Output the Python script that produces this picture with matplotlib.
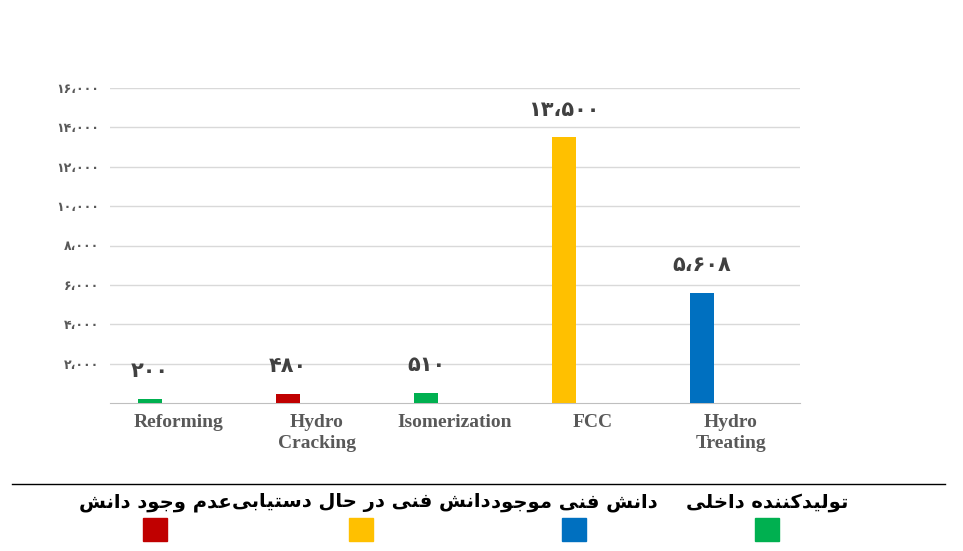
import matplotlib
matplotlib.use('Agg')
import matplotlib.pyplot as plt
from matplotlib.patches import Rectangle
from matplotlib.lines import Line2D

categories = ['Reforming', 'Hydro\nCracking', 'Isomerization', 'FCC', 'Hydro\nTreating']
values = [200, 480, 510, 13500, 5608]
value_labels = ['۲۰۰', '۴۸۰', '۵۱۰', '۱۳،۵۰۰', '۵،۶۰۸']
bar_groups = ['green', 'red', 'green', 'yellow', 'blue']
y_ticks = [2000, 4000, 6000, 8000, 10000, 12000, 14000, 16000]
y_tick_labels = ['۲،۰۰۰', '۴،۰۰۰', '۶،۰۰۰', '۸،۰۰۰', '۱۰،۰۰۰', '۱۲،۰۰۰', '۱۴،۰۰۰', '۱۶،۰۰۰']
legend_keys = ['red', 'yellow', 'blue', 'green']
legend_texts = ['عدم وجود دانش', 'دانش فنی در حال دستیابی', 'دانش فنی موجود', 'تولیدکننده داخلی']

palette = {'green': '#00B050', 'red': '#C00000', 'yellow': '#FFC000', 'blue': '#0070C0'}

# minimal Arabic/Persian shaping (matplotlib has no complex text layout)
FORMS = {
    'ا': (0xFE8D, 0xFE8E), 'د': (0xFEA9, 0xFEAA), 'ر': (0xFEAD, 0xFEAE), 'و': (0xFEED, 0xFEEE),
    'ب': (0xFE8F, 0xFE90, 0xFE91, 0xFE92), 'ت': (0xFE95, 0xFE96, 0xFE97, 0xFE98),
    'ج': (0xFE9D, 0xFE9E, 0xFE9F, 0xFEA0), 'ح': (0xFEA1, 0xFEA2, 0xFEA3, 0xFEA4),
    'خ': (0xFEA5, 0xFEA6, 0xFEA7, 0xFEA8), 'س': (0xFEB1, 0xFEB2, 0xFEB3, 0xFEB4),
    'ش': (0xFEB5, 0xFEB6, 0xFEB7, 0xFEB8), 'ع': (0xFEC9, 0xFECA, 0xFECB, 0xFECC),
    'ف': (0xFED1, 0xFED2, 0xFED3, 0xFED4), 'ل': (0xFEDD, 0xFEDE, 0xFEDF, 0xFEE0),
    'م': (0xFEE1, 0xFEE2, 0xFEE3, 0xFEE4), 'ن': (0xFEE5, 0xFEE6, 0xFEE7, 0xFEE8),
    'ه': (0xFEE9, 0xFEEA, 0xFEEB, 0xFEEC), 'ی': (0xFBFC, 0xFBFD, 0xFBFE, 0xFBFF),
    'ک': (0xFB8E, 0xFB8F, 0xFB90, 0xFB91),
}


def shape(text):
    chars = list(text)
    out = []
    i = 0
    while i < len(chars):
        c = chars[i]
        if c not in FORMS:
            out.append(c)
            i += 1
            continue
        prev = chars[i - 1] if i > 0 else ''
        joins_prev = prev in FORMS and len(FORMS[prev]) == 4
        if c == 'ل' and i + 1 < len(chars) and chars[i + 1] == 'ا':
            out.append(chr(0xFEFC if joins_prev else 0xFEFB))
            i += 2
            continue
        nxt = chars[i + 1] if i + 1 < len(chars) else ''
        f = FORMS[c]
        joins_next = len(f) == 4 and nxt in FORMS
        if joins_prev and joins_next:
            g = f[3]
        elif joins_prev:
            g = f[1]
        elif joins_next:
            g = f[2]
        else:
            g = f[0]
        out.append(chr(g))
        i += 1
    return ''.join(reversed(out))


fig = plt.figure(figsize=(9.63, 5.51), dpi=100)
ax = fig.add_axes([110 / 963, 1 - 403 / 551, 690 / 963, 315 / 551])

x = range(len(categories))
for i, v in enumerate(values):
    ax.bar(i - 0.21, v, width=0.17, color=palette[bar_groups[i]], zorder=3)
    ax.text(i - 0.21, v + 900, value_labels[i], ha='center', va='bottom',
            fontsize=15, fontweight='bold', color='#404040', family=['DejaVu Sans'])

ax.set_xlim(-0.5, len(categories) - 0.5)
ax.set_ylim(0, 16000)
ax.set_yticks(y_ticks)
ax.set_yticklabels(y_tick_labels, family=['DejaVu Sans'], fontweight='bold', fontsize=9, color='#595959')
ax.set_xticks(list(x))
ax.set_xticklabels(categories, family=['Liberation Serif'], fontweight='bold', fontsize=14,
                   color='#595959', va='top', linespacing=1.3)
ax.tick_params(axis='both', length=0, pad=8)
ax.grid(axis='y', color='#d9d9d9', linewidth=1, zorder=0)
for side in ['top', 'right', 'left']:
    ax.spines[side].set_visible(False)
ax.spines['bottom'].set_color('#bfbfbf')

# legend area
fig.add_artist(Line2D([12 / 963, 945 / 963], [1 - 484 / 551] * 2, color='black', linewidth=1))
legend_x = [155, 361, 574, 767]
for key, label, lx in zip(legend_keys, legend_texts, legend_x):
    fig.text(lx / 963, 1 - 503 / 551, shape(label), ha='center', va='center', fontsize=14,
             fontweight='bold', family=['DejaVu Sans'], color='black')
    fig.add_artist(Rectangle(((lx - 12) / 963, 1 - 541 / 551), 24 / 963, 23 / 551,
                             color=palette[key], transform=fig.transFigure))

fig.savefig('out.png', dpi=100)
